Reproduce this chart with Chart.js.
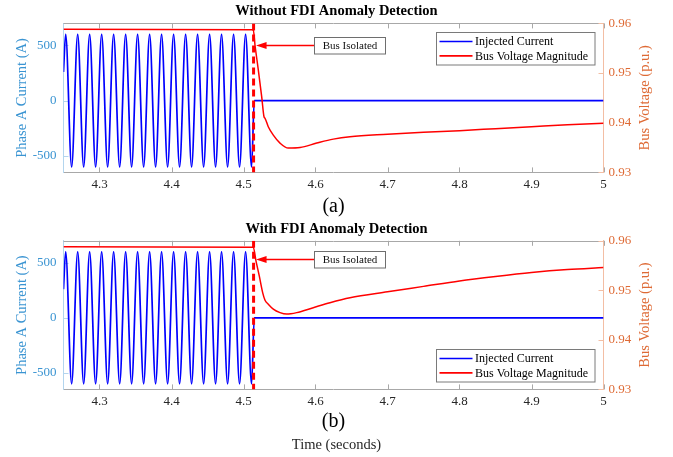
<!DOCTYPE html>
<html>
<head>
<meta charset="utf-8">
<script src="https://cdn.jsdelivr.net/npm/chart.js@4.4.1/dist/chart.umd.min.js"></script>
<style>
  html, body { margin: 0; padding: 0; background: #fff; }
  #wrap { position: relative; width: 673px; height: 457px; }
  #chartA { position: absolute; left: 0; top: 0; }
  #chartB { position: absolute; left: 0; top: 217px; }
</style>
</head>
<body>
<div id="wrap">
  <canvas id="chartA" width="673" height="217"></canvas>
  <canvas id="chartB" width="673" height="240"></canvas>
</div>
<script>
// ===== Data =====
const isolationTime = 4.514;

// injected phase A current: start point, then alternating peaks / troughs, then zero after isolation
const currentTime = [
  4.2500, 4.2530, 4.2613, 4.2697, 4.2780, 4.2863, 4.2946, 4.3030, 4.3113, 4.3196,
  4.3280, 4.3363, 4.3446, 4.3529, 4.3613, 4.3696, 4.3779, 4.3862, 4.3946, 4.4029,
  4.4112, 4.4196, 4.4279, 4.4362, 4.4446, 4.4529, 4.4612, 4.4695, 4.4779, 4.4862,
  4.4945, 4.5029, 4.5112, 4.5150, 5.0000,
];
const currentA = [
  260, 600, -600, 600, -600, 600, -600, 600, -600, 600,
  -600, 600, -600, 600, -600, 600, -600, 600, -600, 600,
  -600, 600, -600, 600, -600, 600, -600, 600, -600, 600,
  -600, 600, -600, 0, 0,
];

// bus voltage, (a) without FDI anomaly detection
const voltTimeA = [
  4.2500, 4.5136, 4.5160, 4.5206, 4.5253, 4.5285, 4.5299, 4.5344, 4.5414, 4.5507,
  4.5622, 4.5785, 4.6017, 4.6247, 4.6479, 4.7000, 4.7500, 4.8000, 4.8500, 4.9000,
  4.9500, 5.0000,
];
const voltA = [
  0.9588, 0.9587, 0.9556, 0.9506, 0.9452, 0.9412, 0.9409, 0.9392, 0.9375, 0.9359,
  0.9349, 0.9350, 0.9359, 0.9367, 0.9372, 0.9377, 0.9381, 0.9384, 0.9388, 0.9392,
  0.9396, 0.9399,
];

// bus voltage, (b) with FDI anomaly detection
const voltTimeB = [
  4.2500, 4.5136, 4.5174, 4.5219, 4.5267, 4.5299, 4.5344, 4.5414, 4.5507, 4.5600,
  4.5739, 4.5969, 4.6201, 4.6479, 4.7000, 4.7500, 4.8000, 4.8500, 4.9000, 4.9500,
  5.0000,
];
const voltB = [
  0.9588, 0.9587, 0.9559, 0.9529, 0.9495, 0.9480, 0.9472, 0.9462, 0.9455, 0.9452,
  0.9455, 0.9465, 0.9475, 0.9485, 0.9497, 0.9508, 0.9519, 0.9528, 0.9536, 0.9542,
  0.9546,
];

const timeRange    = [4.25, 5];
const currentRange = [-650, 700];
const voltRange    = [0.93, 0.96];
const xTicks       = [4.3, 4.4, 4.5, 4.6, 4.7, 4.8, 4.9, 5];
const currentTicks = [-500, 0, 500];
const voltTicks    = [0.93, 0.94, 0.95, 0.96];

// ===== Styles =====
const SERIF  = "'Liberation Serif', 'Times New Roman', serif";
const BLUE_TXT   = '#3a94d2';
const BLUE_LINE  = '#b3d5ee';
const ORANGE_TXT = '#de6a35';
const ORANGE_LINE = '#f3bea4';
const FRAME = '#a8a8a8';

const toPoints = (xs, ys) => xs.map((x, i) => ({ x: x, y: ys[i] }));
const useTicks = values => scale => { scale.ticks = values.map(v => ({ value: v })); };

// ===== Plugins =====
// MATLAB style box: top edge plus inward tick marks
const frameTicks = {
  id: 'frameTicks',
  beforeDatasetsDraw(chart) {
    const { ctx, chartArea: a, scales } = chart;
    const len = 5;
    ctx.save();
    ctx.lineWidth = 1;

    ctx.strokeStyle = FRAME;
    ctx.beginPath();
    ctx.moveTo(a.left, Math.round(a.top) + 0.5);
    ctx.lineTo(a.right, Math.round(a.top) + 0.5);
    scales.x.ticks.forEach(t => {
      const px = Math.round(scales.x.getPixelForValue(t.value)) + 0.5;
      ctx.moveTo(px, a.top);
      ctx.lineTo(px, a.top + len);
      ctx.moveTo(px, a.bottom);
      ctx.lineTo(px, a.bottom - len);
    });
    ctx.stroke();

    ctx.strokeStyle = BLUE_LINE;
    ctx.beginPath();
    scales.y.ticks.forEach(t => {
      const py = Math.round(scales.y.getPixelForValue(t.value)) + 0.5;
      ctx.moveTo(a.left, py);
      ctx.lineTo(a.left + len, py);
    });
    ctx.stroke();

    ctx.strokeStyle = ORANGE_LINE;
    ctx.beginPath();
    scales.y1.ticks.forEach(t => {
      const py = Math.round(scales.y1.getPixelForValue(t.value)) + 0.5;
      ctx.moveTo(a.right, py);
      ctx.lineTo(a.right - len, py);
    });
    ctx.stroke();
    ctx.restore();
  },
};

// "Bus Isolated" callout with arrow pointing at the isolation instant
const isolationNote = {
  id: 'isolationNote',
  afterDatasetsDraw(chart, args, opts) {
    const { ctx } = chart;
    const tipX = chart.scales.x.getPixelForValue(opts.time) + 2.5;
    const y = chart.scales.y.getPixelForValue(opts.level);
    const boxX = tipX + 58, boxW = 71, boxH = 16.5;

    ctx.save();
    ctx.strokeStyle = '#ff0000';
    ctx.fillStyle = '#ff0000';
    ctx.lineWidth = 1.5;
    ctx.beginPath();
    ctx.moveTo(tipX + 8, y);
    ctx.lineTo(boxX, y);
    ctx.stroke();
    ctx.beginPath();
    ctx.moveTo(tipX, y);
    ctx.lineTo(tipX + 10.5, y - 3.5);
    ctx.lineTo(tipX + 10.5, y + 3.5);
    ctx.closePath();
    ctx.fill();

    const bx = Math.round(boxX) + 0.5, by = Math.round(y - boxH / 2) + 0.5;
    ctx.fillStyle = '#fff';
    ctx.fillRect(bx, by, boxW, boxH);
    ctx.strokeStyle = '#6e6e6e';
    ctx.lineWidth = 1;
    ctx.strokeRect(bx, by, boxW, boxH);

    ctx.fillStyle = '#111';
    ctx.font = `11px ${SERIF}`;
    ctx.textAlign = 'center';
    ctx.textBaseline = 'middle';
    ctx.fillText(opts.text, bx + boxW / 2, by + boxH / 2 + 0.5);
    ctx.restore();
  },
};

// boxed legend inside the axes (top-right or bottom-right)
const boxLegend = {
  id: 'boxLegend',
  afterDatasetsDraw(chart, args, opts) {
    const { ctx, chartArea: a } = chart;
    const items = chart.data.datasets.filter(d => d.label);
    const w = 158.5, h = 32.5;
    const x0 = Math.round(a.right - 9.2 - w) + 0.5;
    const y0 = Math.round(opts.corner === 'bottom' ? a.bottom - 8.3 - h : a.top + 8.4) + 0.5;

    ctx.save();
    ctx.fillStyle = '#fff';
    ctx.fillRect(x0, y0, w, h);
    ctx.strokeStyle = '#7a7a7a';
    ctx.lineWidth = 1;
    ctx.strokeRect(x0, y0, w, h);

    ctx.font = `12px ${SERIF}`;
    ctx.textBaseline = 'middle';
    ctx.textAlign = 'left';
    items.forEach((d, i) => {
      const yy = y0 + 9 + i * 14.4;
      ctx.strokeStyle = d.borderColor;
      ctx.lineWidth = 1.6;
      ctx.beginPath();
      ctx.moveTo(x0 + 3, yy);
      ctx.lineTo(x0 + 36, yy);
      ctx.stroke();
      ctx.fillStyle = '#000';
      ctx.fillText(d.label, x0 + 38.5, yy + 0.5);
    });
    ctx.restore();
  },
};

// right axis title, reading bottom to top like the left one
const sideTitle = {
  id: 'sideTitle',
  afterDraw(chart, args, opts) {
    const { ctx } = chart;
    const s = chart.scales.y1;
    ctx.save();
    ctx.translate(s.left + opts.offset, (s.top + s.bottom) / 2);
    ctx.rotate(-Math.PI / 2);
    ctx.font = `14.5px ${SERIF}`;
    ctx.fillStyle = ORANGE_TXT;
    ctx.textAlign = 'center';
    ctx.textBaseline = 'middle';
    ctx.fillText(opts.text, 0, 0);
    ctx.restore();
  },
};

// ===== Chart builder =====
function buildPanel(canvasId, cfg) {
  const ctx = document.getElementById(canvasId).getContext('2d');
  return new Chart(ctx, {
    type: 'line',
    data: {
      datasets: [
        {
          label: 'Injected Current',
          data: toPoints(currentTime, currentA),
          yAxisID: 'y',
          borderColor: '#0000ff',
          borderWidth: 1.7,
          pointRadius: 0,
          cubicInterpolationMode: 'monotone',
          order: 2,
        },
        {
          label: 'Bus Voltage Magnitude',
          data: toPoints(cfg.voltTime, cfg.volt),
          yAxisID: 'y1',
          borderColor: '#ff0000',
          borderWidth: 1.5,
          pointRadius: 0,
          cubicInterpolationMode: 'monotone',
          order: 1,
        },
        {
          data: [
            { x: isolationTime, y: currentRange[1] },
            { x: isolationTime, y: currentRange[0] },
          ],
          yAxisID: 'y',
          borderColor: '#ff0000',
          borderWidth: 3,
          borderDash: [7, 4],
          pointRadius: 0,
          order: 0,
        },
      ],
    },
    options: {
      responsive: false,
      animation: false,
      layout: { padding: 0 },
      plugins: {
        legend: { display: false },
        tooltip: { enabled: false },
        title: {
          display: true,
          text: cfg.title,
          color: '#000',
          font: { family: SERIF, size: 14.5, weight: 'bold', lineHeight: 1.2 },
          padding: cfg.titlePad,
        },
        subtitle: cfg.xLabel ? {
          display: true,
          position: 'bottom',
          text: cfg.xLabel,
          color: '#262626',
          font: { family: SERIF, size: 14.5, lineHeight: 1.2 },
          padding: { top: 0, bottom: 3.3 },
        } : { display: false },
        isolationNote: { time: isolationTime, level: cfg.noteLevel, text: 'Bus Isolated' },
        boxLegend: { corner: cfg.legendCorner },
        sideTitle: { text: 'Bus Voltage (p.u.)', offset: 41.5 },
      },
      scales: {
        x: {
          type: 'linear',
          min: timeRange[0],
          max: timeRange[1],
          afterBuildTicks: useTicks(xTicks),
          afterFit: s => { s.height = cfg.xHeight; },
          grid: { display: false, drawTicks: false },
          border: { color: FRAME, width: 1 },
          ticks: {
            color: '#262626',
            font: { family: SERIF, size: 13 },
            padding: 4,
            maxRotation: 0,
            autoSkip: false,
            callback: v => String(v),
          },
          title: {
            display: true,
            text: cfg.panel,
            color: '#000',
            font: { family: SERIF, size: 20, lineHeight: 1 },
            padding: { top: 0, bottom: cfg.panelPad },
          },
        },
        y: {
          position: 'left',
          min: currentRange[0],
          max: currentRange[1],
          afterBuildTicks: useTicks(currentTicks),
          afterFit: s => { s.width = 63.5; },
          grid: { display: false, drawTicks: false },
          border: { color: BLUE_LINE, width: 1 },
          ticks: {
            color: BLUE_TXT,
            font: { family: SERIF, size: 13 },
            padding: 7,
            callback: v => String(v),
          },
          title: {
            display: true,
            text: 'Phase A Current (A)',
            color: BLUE_TXT,
            font: { family: SERIF, size: 14.5, lineHeight: 1.2 },
            padding: { top: 13.3, bottom: 0 },
          },
        },
        y1: {
          position: 'right',
          min: voltRange[0],
          max: voltRange[1],
          afterBuildTicks: useTicks(voltTicks),
          afterFit: s => { s.width = 69.5; },
          grid: { display: false, drawTicks: false },
          border: { color: ORANGE_LINE, width: 1 },
          ticks: {
            color: ORANGE_TXT,
            font: { family: SERIF, size: 13 },
            padding: 5,
            callback: v => String(v),
          },
        },
      },
    },
    plugins: [frameTicks, isolationNote, boxLegend, sideTitle],
  });
}

buildPanel('chartA', {
  title: 'Without FDI Anomaly Detection',
  titlePad: { top: 3, bottom: 3 },
  voltTime: voltTimeA,
  volt: voltA,
  panel: '(a)',
  panelPad: 0.3,
  xHeight: 44.6,
  noteLevel: 500,
  legendCorner: 'top',
});

buildPanel('chartB', {
  title: 'With FDI Anomaly Detection',
  titlePad: { top: 3.4, bottom: 3 },
  voltTime: voltTimeB,
  volt: voltB,
  panel: '(b)',
  panelPad: 4.6,
  xHeight: 46.9,
  xLabel: 'Time (seconds)',
  noteLevel: 530,
  legendCorner: 'bottom',
});
</script>
</body>
</html>
